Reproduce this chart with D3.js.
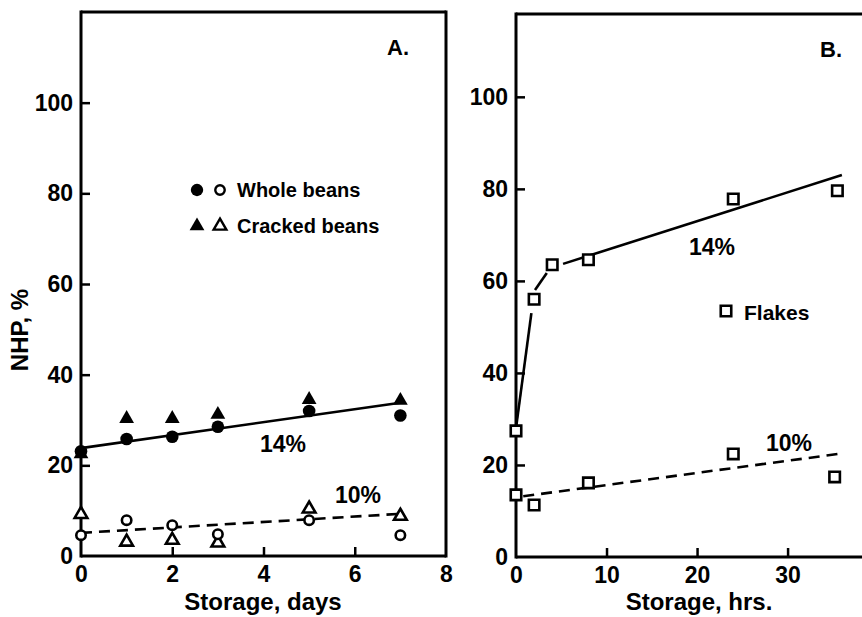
<!DOCTYPE html>
<html>
<head>
<meta charset="utf-8">
<script src="https://cdn.jsdelivr.net/npm/d3@7"></script>
<style>
  body { margin: 0; background: #fff; }
  svg { display: block; }
  text { font-family: "Liberation Sans", Arial, sans-serif; font-weight: bold; fill: #000; }
</style>
</head>
<body>
<svg id="chart" width="862" height="617"></svg>
<script>
// panel A: days of storage
var daysA = [0, 1, 2, 3, 5, 7];
var whole14 = [23.1, 25.8, 26.3, 28.5, 32, 31];
var cracked14 = [22.5, 30.3, 30.3, 31.2, 34.5, 34.3];
var whole10 = [4.6, 7.9, 6.8, 4.8, 7.9, 4.6];
var cracked10 = [9.2, 3.1, 3.5, 2.9, 10.4, 8.8];
var fitA14 = [[0, 23.8], [7, 33.8]];
var fitA10 = [[0, 5.1], [7, 9.3]];

// panel B: hours of storage
var hrsB14 = [0, 2, 4, 8, 24, 35.5];
var flakes14 = [27.4, 56, 63.5, 64.6, 77.8, 79.6];
var hrsB10 = [0, 2, 8, 24, 35.2];
var flakes10 = [13.5, 11.3, 16.1, 22.4, 17.4];
var fitB14a = [[0, 28], [1.7, 53]];
var fitB14b = [[2.1, 58], [3.4, 61.7]];
var fitB14c = [[5.2, 63.7], [36, 83]];
var fitB10 = [[0.8, 13.2], [36, 22.5]];

var yTicks = [0, 20, 40, 60, 80, 100];
var xTicksA = [0, 2, 4, 6, 8];
var xTicksB = [0, 10, 20, 30];

var svg = d3.select("#chart");

var xA = d3.scaleLinear().domain([0, 8]).range([81, 446]);
var yA = d3.scaleLinear().domain([0, 120]).range([556, 12]);
var xB = d3.scaleLinear().domain([0, 38]).range([516, 860]);
var yB = d3.scaleLinear().domain([0, 118]).range([557, 14]);

function drawAxes(x, y, xTicks, rightEdge, showRight) {
  var g = svg.append("g");
  var ya = d3.axisLeft(y).tickValues(yTicks).tickSizeInner(-9).tickSizeOuter(0).tickPadding(8);
  var xa = d3.axisBottom(x).tickValues(xTicks).tickSizeInner(-9).tickSizeOuter(0).tickPadding(10);
  var gy = g.append("g").attr("transform", "translate(" + x.range()[0] + ",0)").call(ya);
  var gx = g.append("g").attr("transform", "translate(0," + y.range()[0] + ")").call(xa);
  [gy, gx].forEach(function(a) {
    a.select(".domain").attr("stroke-width", 3).attr("stroke", "#000");
    a.selectAll(".tick line").attr("stroke-width", 2.5).attr("stroke", "#000");
    a.selectAll(".tick text").attr("font-size", 23).attr("fill", "#000")
      .style("font-family", "'Liberation Sans', Arial, sans-serif").style("font-weight", "bold");
  });
  gy.select(".domain").attr("d", "M0," + (y.range()[0] + 1.5) + "V" + (y.range()[1] - 1.5));
  gx.select(".domain").attr("d", "M" + x.range()[0] + ",0H" + rightEdge);
  // hide tick marks at the origin
  gx.selectAll(".tick").filter(function(d) { return d === 0 || d === x.domain()[1]; }).select("line").remove();
  gy.selectAll(".tick").filter(function(d) { return d === 0; }).select("line").remove();
  // frame
  g.append("line").attr("x1", x.range()[0]).attr("x2", rightEdge)
    .attr("y1", y.range()[1]).attr("y2", y.range()[1]).attr("stroke", "#000").attr("stroke-width", 3);
  if (showRight) {
    g.append("line").attr("x1", rightEdge).attr("x2", rightEdge)
      .attr("y1", y.range()[1] - 1.5).attr("y2", y.range()[0] + 1.5).attr("stroke", "#000").attr("stroke-width", 3);
  }
}

drawAxes(xA, yA, xTicksA, 446, true);
drawAxes(xB, yB, xTicksB, 862, false);

function fitLine(x, y, pts, dashed) {
  var line = d3.line().x(function(d) { return x(d[0]); }).y(function(d) { return y(d[1]); });
  svg.append("path").datum(pts).attr("d", line)
    .attr("fill", "none").attr("stroke", "#000").attr("stroke-width", 2.6)
    .attr("stroke-dasharray", dashed ? "11,7" : null);
}

fitLine(xA, yA, fitA14, false);
fitLine(xA, yA, fitA10, true);
fitLine(xB, yB, fitB14a, false);
fitLine(xB, yB, fitB14b, false);
fitLine(xB, yB, fitB14c, false);
fitLine(xB, yB, fitB10, true);

var triSym = d3.symbol().type(d3.symbolTriangle).size(90);
var sqSym = d3.symbol().type(d3.symbolSquare).size(110);

function points(x, y, xs, ys, kind, filled) {
  var g = svg.append("g");
  var data = xs.map(function(v, i) { return [v, ys[i]]; });
  var sel = g.selectAll("path").data(data).enter().append("path")
    .attr("transform", function(d) { return "translate(" + x(d[0]) + "," + y(d[1]) + ")"; });
  if (kind === "circle") {
    sel.attr("d", d3.symbol().type(d3.symbolCircle).size(filled ? 125 : 70)());
  } else if (kind === "triangle") {
    sel.attr("d", d3.symbol().type(d3.symbolTriangle).size(filled ? 95 : 70)());
  } else {
    sel.attr("d", sqSym());
  }
  if (filled) {
    sel.attr("fill", "#000");
  } else {
    sel.attr("fill", "#fff").attr("stroke", "#000").attr("stroke-width", 2.6);
  }
}

points(xA, yA, daysA, cracked10, "triangle", false);
points(xA, yA, daysA, whole10, "circle", false);
points(xA, yA, daysA, cracked14, "triangle", true);
points(xA, yA, daysA, whole14, "circle", true);
points(xB, yB, hrsB14, flakes14, "square", false);
points(xB, yB, hrsB10, flakes10, "square", false);

// legends
var leg = svg.append("g");
leg.append("path").attr("d", d3.symbol().type(d3.symbolCircle).size(120)()).attr("transform", "translate(197,190)").attr("fill", "#000");
leg.append("path").attr("d", d3.symbol().type(d3.symbolCircle).size(70)()).attr("transform", "translate(220,190)")
  .attr("fill", "#fff").attr("stroke", "#000").attr("stroke-width", 2.4);
leg.append("text").attr("x", 237).attr("y", 197).attr("font-size", 20).text("Whole beans");
leg.append("path").attr("d", d3.symbol().type(d3.symbolTriangle).size(95)()).attr("transform", "translate(197,226)").attr("fill", "#000");
leg.append("path").attr("d", d3.symbol().type(d3.symbolTriangle).size(70)()).attr("transform", "translate(220,226)")
  .attr("fill", "#fff").attr("stroke", "#000").attr("stroke-width", 2.4);
leg.append("text").attr("x", 237).attr("y", 233).attr("font-size", 20).text("Cracked beans");
leg.append("path").attr("d", sqSym()).attr("transform", "translate(726,311)")
  .attr("fill", "#fff").attr("stroke", "#000").attr("stroke-width", 2.6);
leg.append("text").attr("x", 744).attr("y", 320).attr("font-size", 21).text("Flakes");

// labels
function label(x, y, s, size, anchor) {
  svg.append("text").attr("x", x).attr("y", y).attr("font-size", size)
    .attr("text-anchor", anchor || "start").text(s);
}
label(387, 55, "A.", 22);
label(820, 57, "B.", 22);
label(260, 452, "14%", 23);
label(335, 503, "10%", 23);
label(689, 255, "14%", 23);
label(766, 451, "10%", 23);
label(263, 610, "Storage, days", 24, "middle");
label(699, 610, "Storage, hrs.", 24, "middle");
svg.append("text").attr("transform", "translate(28,330) rotate(-90)")
  .attr("text-anchor", "middle").attr("font-size", 24).text("NHP, %");
</script>
</body>
</html>
